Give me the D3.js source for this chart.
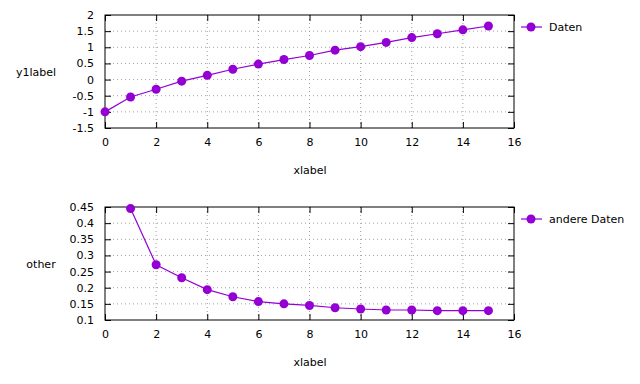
<!DOCTYPE html>
<html>
<head>
<meta charset="utf-8">
<script src="https://cdn.jsdelivr.net/npm/d3@7"></script>
<style>
  body { margin: 0; background: #fff; }
  svg text { font-family: "DejaVu Sans", sans-serif; font-size: 11px; fill: #000; }
</style>
</head>
<body>
<div id="chart"></div>
<script>
// Data
const xValues = [0, 1, 2, 3, 4, 5, 6, 7, 8, 9, 10, 11, 12, 13, 14, 15];
const daten = [-1.0, -0.54, -0.30, -0.05, 0.13, 0.32, 0.48, 0.62, 0.745, 0.91, 1.02, 1.15, 1.30, 1.42, 1.54, 1.66];
const andereX = [1, 2, 3, 4, 5, 6, 7, 8, 9, 10, 11, 12, 13, 14, 15];
const andereDaten = [0.445, 0.271, 0.231, 0.194, 0.172, 0.157, 0.15, 0.145, 0.138, 0.134, 0.131, 0.131, 0.129, 0.129, 0.129];
const xTicks = [0, 2, 4, 6, 8, 10, 12, 14, 16];
const yTicksTop = [-1.5, -1, -0.5, 0, 0.5, 1, 1.5, 2];
const yTicksBottom = [0.1, 0.15, 0.2, 0.25, 0.3, 0.35, 0.4, 0.45];

const color = "#9400d3";

const svg = d3.select("#chart")
  .append("svg")
    .attr("width", 640)
    .attr("height", 384);

// Draw one panel
function panel(cfg) {
  const x = d3.scaleLinear().domain([0, 16]).range([105, 514]);
  const y = d3.scaleLinear().domain(cfg.yDomain).range([cfg.bottom, cfg.top]);
  const g = svg.append("g");

  // dotted grid
  g.selectAll(".gx")
    .data(xTicks.slice(1, -1))
    .join("line")
      .attr("x1", d => x(d)).attr("x2", d => x(d))
      .attr("y1", cfg.top).attr("y2", cfg.bottom)
      .attr("stroke", "#a0a0a0")
      .attr("stroke-dasharray", "1,3");
  g.selectAll(".gy")
    .data(cfg.yTicks.slice(1, -1))
    .join("line")
      .attr("x1", 105).attr("x2", 514)
      .attr("y1", d => y(d)).attr("y2", d => y(d))
      .attr("stroke", "#a0a0a0")
      .attr("stroke-dasharray", "1,3");

  // inward ticks on all four sides
  const axB = d3.axisBottom(x).tickValues(xTicks).tickSizeInner(-6).tickSizeOuter(0).tickPadding(10);
  const axT = d3.axisTop(x).tickValues(xTicks).tickSizeInner(-6).tickSizeOuter(0).tickFormat("");
  const axL = d3.axisLeft(y).tickValues(cfg.yTicks).tickSizeInner(-6).tickSizeOuter(0).tickPadding(11).tickFormat(d => String(d));
  const axR = d3.axisRight(y).tickValues(cfg.yTicks).tickSizeInner(-6).tickSizeOuter(0).tickFormat("");

  [[axB, `translate(0,${cfg.bottom})`], [axT, `translate(0,${cfg.top})`],
   [axL, "translate(105,0)"], [axR, "translate(514,0)"]].forEach(([ax, tr]) => {
    const a = g.append("g").attr("transform", tr).call(ax);
    a.select(".domain").remove();
    a.selectAll("line").attr("stroke", "#000");
    a.selectAll("text").attr("font-family", "DejaVu Sans").attr("font-size", 11).attr("fill", "#000");
  });

  // frame
  g.append("rect")
    .attr("x", 105).attr("y", cfg.top)
    .attr("width", 514 - 105).attr("height", cfg.bottom - cfg.top)
    .attr("fill", "none").attr("stroke", "#000").attr("stroke-width", 1);

  // series
  const pts = cfg.xs.map((d, i) => [d, cfg.ys[i]]);
  g.append("path")
    .attr("d", d3.line().x(d => x(d[0])).y(d => y(d[1]))(pts))
    .attr("fill", "none")
    .attr("stroke", color)
    .attr("stroke-width", 1.2);
  g.selectAll(".pt")
    .data(pts)
    .join("circle")
      .attr("cx", d => x(d[0]))
      .attr("cy", d => y(d[1]))
      .attr("r", 4.5)
      .attr("fill", color);

  // labels
  g.append("text")
    .text("xlabel")
    .attr("x", 310).attr("y", cfg.bottom + 46)
    .attr("text-anchor", "middle");
  g.append("text")
    .text(cfg.yLabel)
    .attr("x", cfg.yLabelX).attr("y", (cfg.top + cfg.bottom) / 2 + 4)
    .attr("text-anchor", "middle");

  // legend
  g.append("line")
    .attr("x1", 521).attr("x2", 542)
    .attr("y1", cfg.legendY).attr("y2", cfg.legendY)
    .attr("stroke", color).attr("stroke-width", 1.2);
  g.append("circle")
    .attr("cx", 531).attr("cy", cfg.legendY).attr("r", 4.5)
    .attr("fill", color);
  g.append("text")
    .text(cfg.name)
    .attr("x", 549).attr("y", cfg.legendY + 4);
}

panel({
  top: 15, bottom: 128, yDomain: [-1.5, 2], yTicks: yTicksTop,
  xs: xValues, ys: daten, yLabel: "y1label", yLabelX: 36,
  legendY: 27, name: "Daten"
});

panel({
  top: 207, bottom: 320, yDomain: [0.1, 0.45], yTicks: yTicksBottom,
  xs: andereX, ys: andereDaten, yLabel: "other", yLabelX: 41,
  legendY: 219, name: "andere Daten"
});
</script>
</body>
</html>
